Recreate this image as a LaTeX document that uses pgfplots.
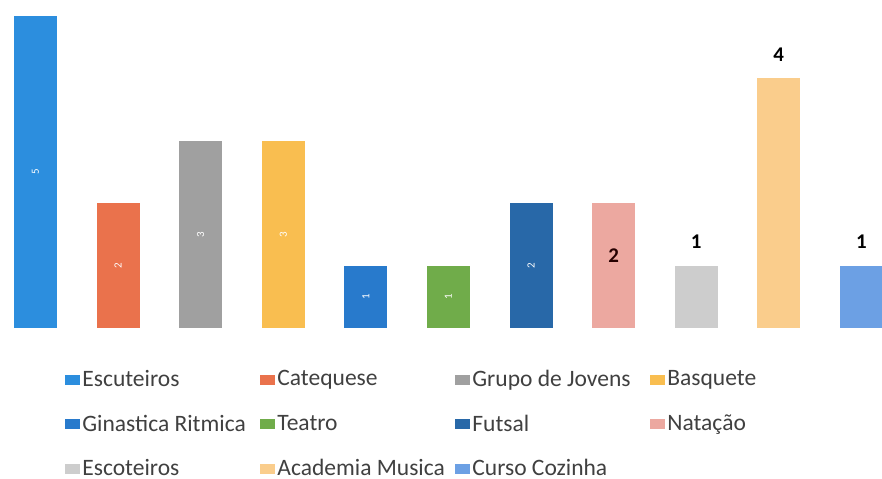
\documentclass[border=0pt]{standalone}
\usepackage{pgfplots}
\pgfplotsset{compat=1.18}
\usepackage{fontspec}
\setmainfont{Carlito}
\definecolor{cEscu}{RGB}{44,142,222}
\definecolor{cCate}{RGB}{234,114,76}
\definecolor{cGrup}{RGB}{160,160,160}
\definecolor{cBasq}{RGB}{249,190,80}
\definecolor{cGina}{RGB}{40,122,204}
\definecolor{cTeat}{RGB}{112,172,74}
\definecolor{cFuts}{RGB}{40,104,168}
\definecolor{cNata}{RGB}{236,168,160}
\definecolor{cEsco}{RGB}{205,205,205}
\definecolor{cAcad}{RGB}{250,205,140}
\definecolor{cCurs}{RGB}{108,160,228}
\begin{document}
\begin{tikzpicture}
\path[use as bounding box] (0,-75.5bp) rectangle (441bp,164bp);
\begin{axis}[
  at={(0,0)}, anchor=south west,
  scale only axis, width=441bp, height=164bp,
  hide axis, ymin=0, ymax=5.256, xmin=-0.43, xmax=10.25,
  ybar, bar width=21.5bp, bar shift=0pt,
  /pgf/number format/assume math mode=true,
  legend columns=4,
  legend style={draw=none, fill=none, at={(0.0737,-0.115)}, anchor=north west,
    font=\fontsize{11.8}{14}\selectfont, text=black!75, column sep=0pt, row sep=8.7bp,
    inner sep=0pt, nodes={text width=88bp, align=flush left, inner xsep=1bp}},
  legend image code/.code={\fill[#1] (0bp,-2.5bp) rectangle (7.5bp,2.5bp);},
  midlabel/.style={nodes near coords, visualization depends on={rawy/2 \as \halfy},
    every node near coord/.append style={anchor=center, shift={(axis direction cs:0,-\halfy)}, rotate=90,
      text=white, font=\fontsize{5.5}{6}\selectfont}},
  toplabel/.style={nodes near coords, every node near coord/.append style={anchor=center, yshift=12bp,
      text=black, font=\bfseries\fontsize{10.5}{12}\selectfont}},
]
\addplot[fill=cEscu, draw=none, midlabel] coordinates {(0,5)};
\addlegendentry{Escuteiros}
\addplot[fill=cCate, draw=none, midlabel] coordinates {(1,2)};
\addlegendentry{Catequese}
\addplot[fill=cGrup, draw=none, midlabel] coordinates {(2,3)};
\addlegendentry{Grupo de Jovens}
\addplot[fill=cBasq, draw=none, midlabel] coordinates {(3,3)};
\addlegendentry{Basquete}
\addplot[fill=cGina, draw=none, midlabel] coordinates {(4,1)};
\addlegendentry{Ginastica Ritmica}
\addplot[fill=cTeat, draw=none, midlabel] coordinates {(5,1)};
\addlegendentry{Teatro}
\addplot[fill=cFuts, draw=none, midlabel] coordinates {(6,2)};
\addlegendentry{Futsal}
\addplot[fill=cNata, draw=none, nodes near coords,
  every node near coord/.append style={anchor=center, yshift=-26bp, text=black!85!red, font=\bfseries\fontsize{10.5}{12}\selectfont}] coordinates {(7,2)};
\addlegendentry{Natação}
\addplot[fill=cEsco, draw=none, toplabel] coordinates {(8,1)};
\addlegendentry{Escoteiros}
\addplot[fill=cAcad, draw=none, toplabel] coordinates {(9,4)};
\addlegendentry{Academia Musica}
\addplot[fill=cCurs, draw=none, toplabel] coordinates {(10,1)};
\addlegendentry{Curso Cozinha}
\end{axis}
\end{tikzpicture}
\end{document}
